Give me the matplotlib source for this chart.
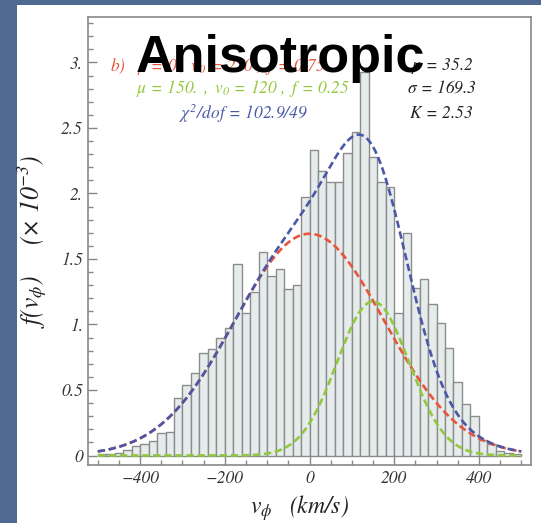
import numpy as np
import matplotlib
matplotlib.use("Agg")
import matplotlib.pyplot as plt
from matplotlib.patches import Rectangle
from matplotlib.ticker import MultipleLocator

plt.rcParams["font.family"] = "STIXGeneral"
plt.rcParams["mathtext.fontset"] = "custom"
plt.rcParams["mathtext.rm"] = "STIXGeneral:italic"
plt.rcParams["mathtext.it"] = "STIXGeneral:italic"
plt.rcParams["mathtext.bf"] = "STIXGeneral:italic:bold"

# histogram of v_phi, 20 km/s bins from -500 to 500, density in units of 1e-3
bin_edges = np.arange(-500, 501, 20)
density = [0.01, 0.01, 0.02, 0.04, 0.07, 0.09, 0.11, 0.17, 0.18, 0.44,
           0.54, 0.63, 0.78, 0.81, 0.90, 0.97, 1.46, 1.09, 1.25, 1.55,
           1.37, 1.42, 1.27, 1.30, 1.97, 2.33, 2.17, 2.09, 2.09, 2.31,
           2.47, 2.93, 2.28, 2.09, 2.05, 1.09, 1.70, 1.28, 1.35, 1.16,
           1.01, 0.82, 0.56, 0.39, 0.30, 0.12, 0.09, 0.035, 0.02, 0.01]

# fitted two-component model (mu, v0, f)
comp1 = (0.0, 250.0, 0.75)
comp2 = (150.0, 120.0, 0.25)
fit_stats = {"mu": 35.2, "sigma": 169.3, "K": 2.53}
chi2, dof = 102.9, 49

x_ticks = [-400, -200, 0, 200, 400]
x_ticklabels = ["\u2212400", "\u2212200", "0", "200", "400"]
y_ticks = [0, 0.5, 1.0, 1.5, 2.0, 2.5, 3.0]
y_ticklabels = ["0", "0.5", "1.", "1.5", "2.", "2.5", "3."]

RED = "#e8553c"
GREEN = "#92c83e"
BLUE = "#4a58a8"


def component(v, mu, v0, f):
    return 1e3 * f * np.exp(-((v - mu) / v0) ** 2) / (np.sqrt(np.pi) * v0)


W, H = 541, 523
fig = plt.figure(figsize=(W / 100, H / 100), dpi=100, facecolor="#4e6a90")
fig.patches.append(Rectangle((17 / W, 0), 1 - 17 / W, 1 - 5 / H,
                             transform=fig.transFigure, facecolor="white",
                             edgecolor="none", zorder=-10))

ax = fig.add_axes([88 / W, (H - 465) / H, (531 - 88) / W, (465 - 17) / H])
ax.set_facecolor("white")

ax.bar(bin_edges[:-1], density, width=20, align="edge", color="#e6ecec",
       edgecolor="#8c8c8c", linewidth=1.0, zorder=1)

v = np.linspace(-500, 500, 600)
f1 = component(v, *comp1)
f2 = component(v, *comp2)
dash = (0, (2.8, 1.4))
ax.plot(v, f1, color=RED, lw=1.9, ls=dash, zorder=3)
ax.plot(v, f2, color=GREEN, lw=1.9, ls=dash, zorder=3)
ax.plot(v, f1 + f2, color=BLUE, lw=1.9, ls=dash, zorder=4)

ax.set_xlim(-523, 523)
ax.set_ylim(-0.0725, 3.347)

ax.set_xticks(x_ticks)
ax.set_xticklabels(x_ticklabels)
ax.set_yticks(y_ticks)
ax.set_yticklabels(y_ticklabels)
ax.xaxis.set_minor_locator(MultipleLocator(50))
ax.yaxis.set_minor_locator(MultipleLocator(0.1))
ax.tick_params(which="both", direction="in", color="#888888", top=False, right=False)
ax.tick_params(which="major", length=6.5, width=1)
ax.tick_params(which="minor", length=3.5, width=1)
ax.tick_params(labelsize=12.5, labelcolor="#333333")
for lab in ax.get_xticklabels() + ax.get_yticklabels():
    lab.set_fontstyle("italic")
for sp in ax.spines.values():
    sp.set_color("#888888")
    sp.set_linewidth(1.2)

ax.set_xlabel(r"$v_\phi\ \ \ (km/s)$", fontsize=17, color="#222222")
ax.xaxis.set_label_coords(0.478, -0.062)
ax.set_ylabel(r"$f(v_\phi)\ \ \ \ \ (\times\ 10^{-3})$", fontsize=18.5,
              color="#222222", labelpad=9)

tsize = 12.5
ax.text(-471, 2.97, r"$b)\ \ \ \mu\,=\,%g\ ,\ v_0\,=\,%g\ ,\ f\,=\,%.2f$" % comp1,
        color=RED, fontsize=tsize, ha="left", va="center", zorder=5)
ax.text(-158, 2.80, r"$\mu\,=\,%g.\ ,\ v_0\,=\,%g\ ,\ f\,=\,%.2f$" % comp2,
        color=GREEN, fontsize=tsize, ha="center", va="center", zorder=5)
ax.text(-156, 2.61, r"$\chi^2/dof\,=\,%.1f/%d$" % (chi2, dof),
        color=BLUE, fontsize=tsize, ha="center", va="center", zorder=5)
ax.text(312, 2.97, r"$\mu\,=\,%.1f$" % fit_stats["mu"], color="#222222",
        fontsize=tsize, ha="center", va="center", zorder=5)
ax.text(312, 2.80, r"$\sigma\,=\,%.1f$" % fit_stats["sigma"], color="#222222",
        fontsize=tsize, ha="center", va="center", zorder=5)
ax.text(312, 2.61, r"$K\,=\,%.2f$" % fit_stats["K"], color="#222222",
        fontsize=tsize, ha="center", va="center", zorder=5)

fig.text(280 / W, 1 - 72 / H, "Anisotropic", fontsize=37.5, fontweight="bold",
         family="Liberation Sans", color="black", ha="center", va="baseline",
         zorder=10)

fig.savefig("out.png", dpi=100, facecolor=fig.get_facecolor())
